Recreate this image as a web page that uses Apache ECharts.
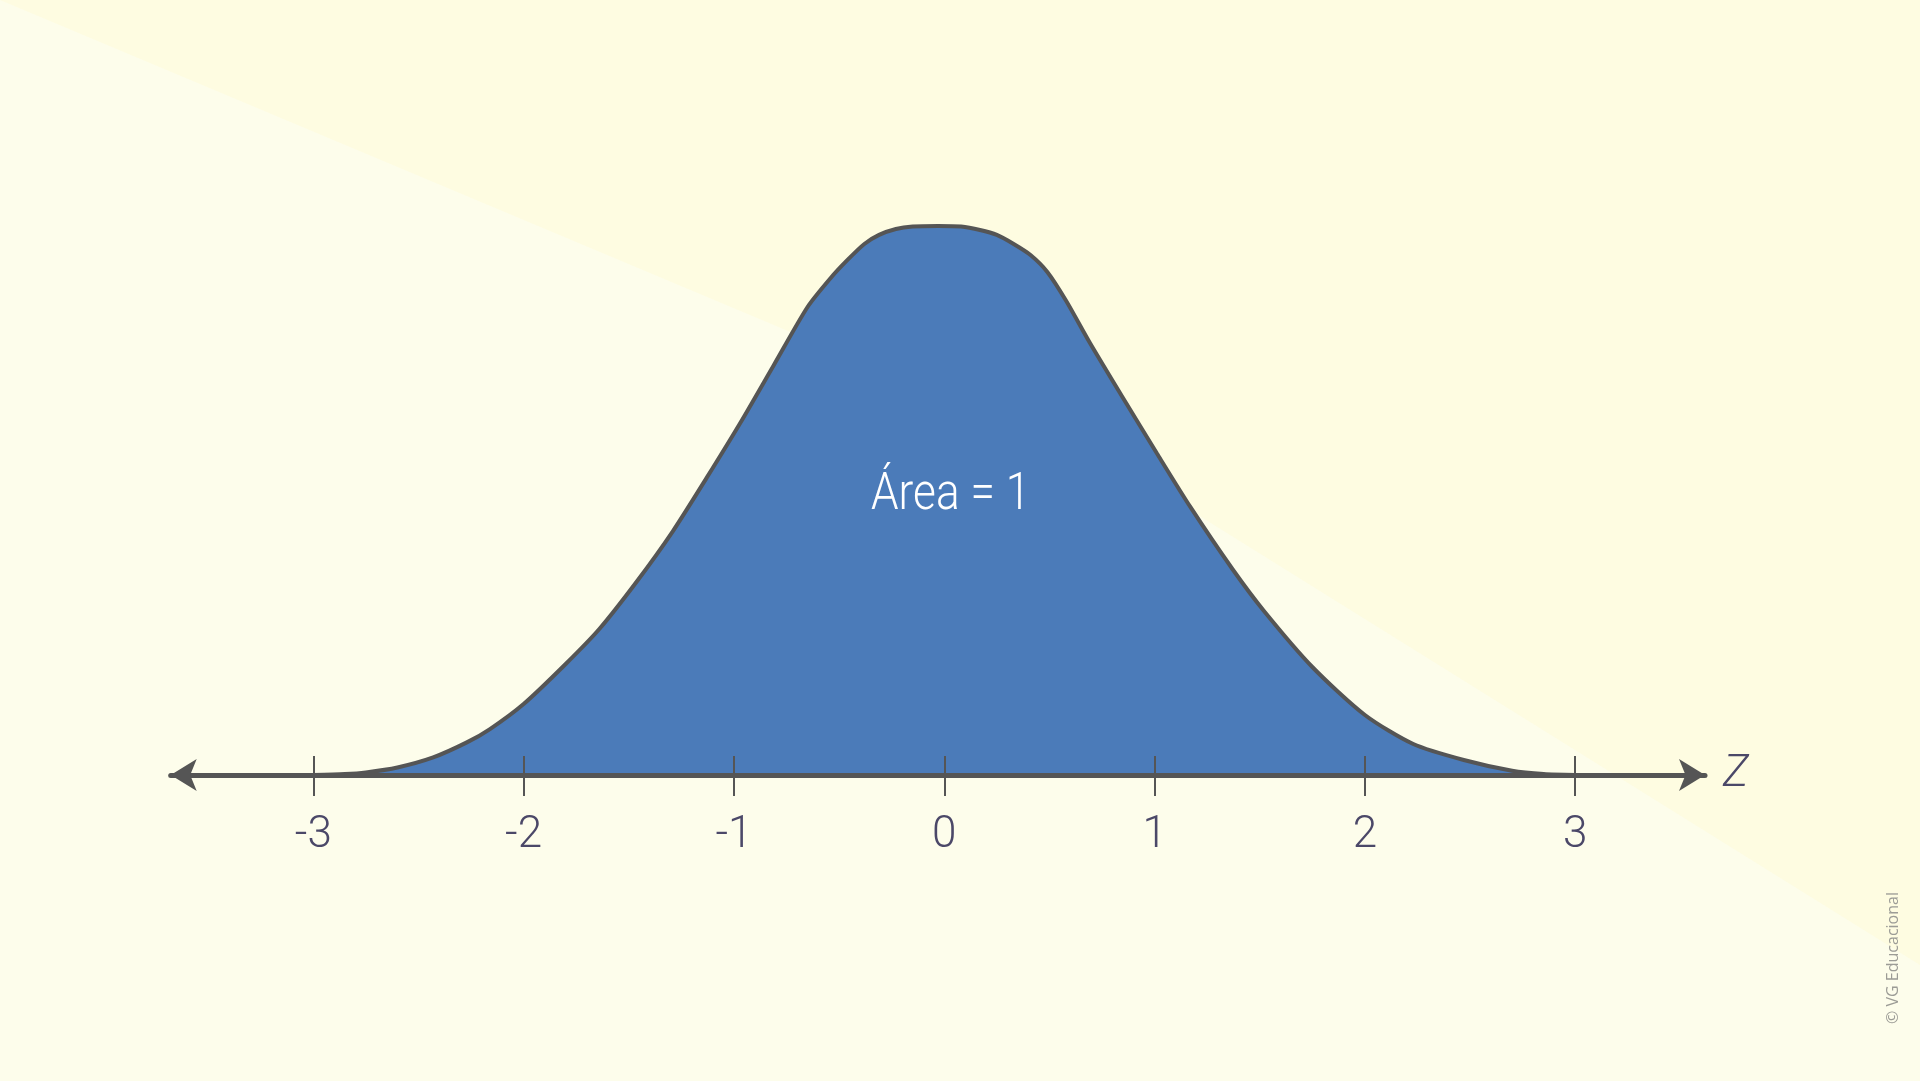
<!DOCTYPE html>
<html>
<head>
<meta charset="utf-8">
<script src="https://cdn.jsdelivr.net/npm/echarts@6/dist/echarts.min.js"></script>
<style>
  html, body { margin: 0; padding: 0; width: 1920px; height: 1081px; overflow: hidden; background: #fdfdeb; }
  #chart { width: 1920px; height: 1081px; }
</style>
</head>
<body>
<div id="chart"></div>
<script>
// ---- data ----
const zValues = [-3.0, -2.85, -2.75, -2.6, -2.43, -2.27, -2.16, -2.0, -1.8, -1.64, -1.46, -1.29, -1.13, -0.97, -0.81, -0.65, -0.54, -0.46, -0.38, -0.31, -0.23, -0.15, -0.03, 0.08, 0.17, 0.25, 0.33, 0.41, 0.49, 0.58, 0.69, 0.85, 1.01, 1.17, 1.37, 1.52, 1.75, 2.0, 2.23, 2.47, 2.7, 2.85, 3.0];
const density = [0, 0.0007, 0.0019, 0.0055, 0.0128, 0.0237, 0.0334, 0.0516, 0.0807, 0.1061, 0.1410, 0.1773, 0.2159, 0.2558, 0.2980, 0.3401, 0.3612, 0.3743, 0.3859, 0.3925, 0.3968, 0.3986, 0.3990, 0.3986, 0.3961, 0.3925, 0.3859, 0.3779, 0.3656, 0.3445, 0.3147, 0.2740, 0.2340, 0.1948, 0.1497, 0.1192, 0.0785, 0.0436, 0.0225, 0.0109, 0.0031, 0.0007, 0];
const tickValues = [-3, -2, -1, 0, 1, 2, 3];
const tickLabels = ['-3', '-2', '-1', '0', '1', '2', '3'];
const axisName = 'Z';
const areaLabel = 'Área = 1';
const areaLabelPos = [0.03, 0.203];
const credit = '© VG Educacional';

const X_MIN = -3.678, X_MAX = 3.617, Y_MAX = 0.5;

const curve = zValues.map((z, i) => [z, density[i]]);

const labelFont = "Roboto, 'Noto Sans', sans-serif";
const labelColor = '#4b4868';
const dark = '#555555';

const chart = echarts.init(document.getElementById('chart'), null, { renderer: 'canvas' });
chart.setOption({
  backgroundColor: '#fdfdeb',
  animation: false,
  grid: { left: 170.7, right: 215, top: 87, bottom: 306, containLabel: false },
  xAxis: [
    {
      type: 'value', min: X_MIN, max: X_MAX, position: 'bottom', z: 10,
      name: axisName, nameLocation: 'end', nameGap: 18,
      nameTextStyle: { fontSize: 44, fontStyle: 'italic', fontWeight: 300, color: labelColor, fontFamily: labelFont, verticalAlign: 'middle', padding: [0, 0, 12, 0] },
      axisLine: { show: true, onZero: false, symbol: ['arrow', 'arrow'], symbolSize: [24, 26], lineStyle: { color: dark, width: 5 } },
      axisTick: { show: true, customValues: tickValues, length: 21, inside: false, lineStyle: { color: dark, width: 2 } },
      axisLabel: {
        show: true, customValues: tickValues, margin: 39,
        formatter: v => tickLabels[tickValues.indexOf(Math.round(v))],
        fontSize: 44, fontWeight: 300, color: labelColor, fontFamily: labelFont
      },
      splitLine: { show: false }
    },
    {
      type: 'value', min: X_MIN, max: X_MAX, position: 'bottom', z: 10,
      axisLine: { show: false, onZero: false },
      axisTick: { show: true, customValues: tickValues, length: 19, inside: true, lineStyle: { color: dark, width: 2 } },
      axisLabel: { show: false },
      splitLine: { show: false }
    }
  ],
  yAxis: { type: 'value', min: 0, max: Y_MAX, show: false },
  series: [
    {
      type: 'line', xAxisIndex: 0, data: curve, smooth: 0.25, showSymbol: false, symbol: 'none',
      lineStyle: { color: dark, width: 4 },
      areaStyle: { color: '#4b7bb9', opacity: 1 },
      z: 2
    }
  ]
});

// annotation placed from data coordinates through the chart's own scales
const p = chart.convertToPixel({ gridIndex: 0 }, areaLabelPos);
chart.setOption({
  graphic: [
    {
      id: 'bg', type: 'polygon', z: -10, silent: true,
      shape: { points: [[0, 0], [800, 336], [1190, 510], [1920, 965], [1920, 0]] },
      style: { fill: '#fefce1' }
    },
    {
      id: 'credit', type: 'text', z: 10, silent: true,
      x: 1893, y: 958, rotation: Math.PI / 2,
      style: { text: credit, fill: '#9c9c96', font: "16px 'Open Sans', sans-serif", align: 'center', verticalAlign: 'middle' }
    },
    {
      id: 'area', type: 'text', z: 20, silent: true,
      x: p[0], y: p[1], scaleX: 0.85,
      style: { text: areaLabel, fill: '#ffffff', font: "300 52px Roboto, sans-serif", align: 'center', verticalAlign: 'middle' }
    }
  ]
});
</script>
</body>
</html>
